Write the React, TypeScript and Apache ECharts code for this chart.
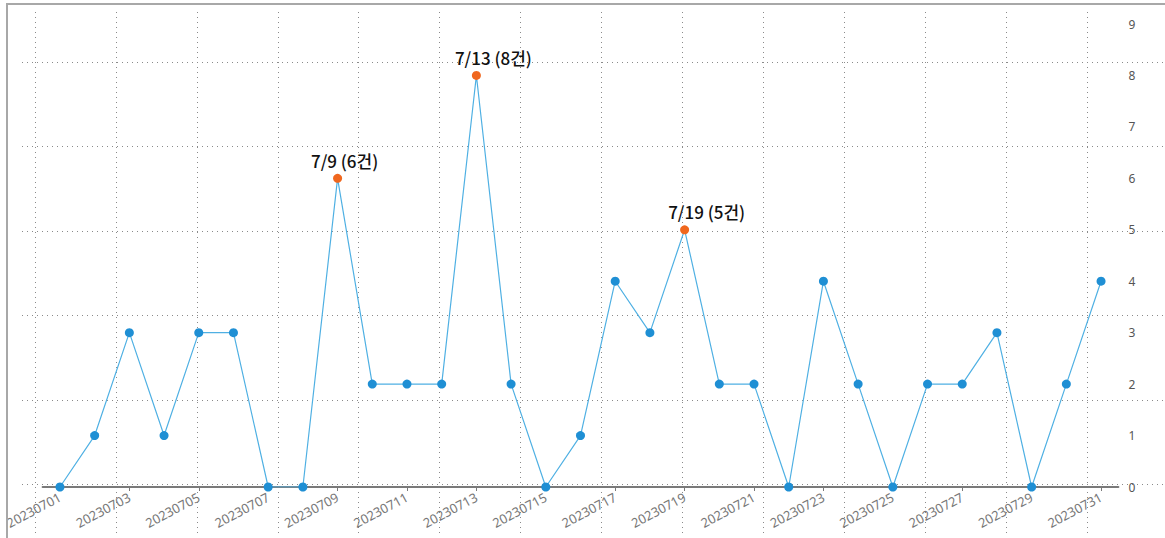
import React, { useEffect, useRef } from "react";
import * as echarts from "echarts";

const dates = [
  "20230701", "20230702", "20230703", "20230704", "20230705", "20230706", "20230707", "20230708",
  "20230709", "20230710", "20230711", "20230712", "20230713", "20230714", "20230715", "20230716",
  "20230717", "20230718", "20230719", "20230720", "20230721", "20230722", "20230723", "20230724",
  "20230725", "20230726", "20230727", "20230728", "20230729", "20230730", "20230731",
];
const counts = [0, 1, 3, 1, 3, 3, 0, 0, 6, 2, 2, 2, 8, 2, 0, 1, 4, 3, 5, 2, 2, 0, 4, 2, 0, 2, 2, 3, 0, 2, 4];
const highlightDates = ["20230709", "20230713", "20230719"];
const highlightLabels = ["7/9 (6건)", "7/13 (8건)", "7/19 (5건)"];

const labelOffsets: Record<string, number[]> = {
  "20230709": [7, 0],
  "20230713": [17, 0],
  "20230719": [22, 0],
};

export default function App() {
  const ref = useRef<HTMLDivElement>(null);
  useEffect(() => {
    if (!ref.current) return;
    const chart = echarts.init(ref.current, null, { renderer: "svg" });
    const dotted = { color: "#8a8a8a", width: 1, type: [1, 4] as any };
    const seriesData = counts.map((v, i) => {
      const h = highlightDates.indexOf(dates[i]);
      if (h < 0) return v;
      return {
        value: v,
        itemStyle: { color: "#f0671e" },
        label: {
          show: true,
          position: "top",
          distance: 5,
          offset: labelOffsets[dates[i]],
          formatter: highlightLabels[h],
          fontSize: 17,
          fontWeight: 500,
          color: "#111",
          fontFamily: "Noto Sans CJK KR",
        },
      };
    });
    chart.setOption({
      animation: false,
      backgroundColor: "#fff",
      graphic: [
        { type: "line", shape: { x1: 7, y1: 538, x2: 7, y2: 4 }, style: { stroke: "#a8a8a8", lineWidth: 2 }, z: 100 },
        { type: "line", shape: { x1: 6, y1: 4, x2: 1165, y2: 4 }, style: { stroke: "#a8a8a8", lineWidth: 2 }, z: 100 },
      ],
      grid: [
        { left: 42.6, right: 46.6, top: 24, bottom: 51, containLabel: false },
        { left: 22, right: 0, top: 62, bottom: 53.5 },
        { left: 35, right: 78, top: 12, bottom: 3 },
      ],
      xAxis: [
        {
          type: "category",
          gridIndex: 0,
          data: dates,
          boundaryGap: true,
          axisLine: { show: true, lineStyle: { color: "#7a7a7a", width: 2 } },
          axisTick: { show: true, alignWithLabel: true, interval: 1, length: 4, lineStyle: { color: "#7a7a7a", width: 1 } },
          axisLabel: { interval: 1, rotate: 28, color: "#777", fontSize: 13, margin: 9, fontFamily: "Noto Sans" },
          splitLine: { show: false },
          z: 5,
        },
        { type: "value", gridIndex: 1, show: false, min: 0, max: 1 },
        {
          type: "value",
          gridIndex: 2,
          min: 0,
          max: 13,
          interval: 1,
          axisLine: { show: false },
          axisTick: { show: false },
          axisLabel: { show: false },
          splitLine: { show: true, lineStyle: dotted },
          z: 0,
        },
      ],
      yAxis: [
        {
          type: "value",
          gridIndex: 0,
          position: "right",
          min: 0,
          max: 9,
          interval: 1,
          axisLine: { show: false },
          axisTick: { show: false },
          axisLabel: { color: "#555", fontSize: 12, margin: 10, fontFamily: "Noto Sans" },
          splitLine: { show: false },
        },
        {
          type: "value",
          gridIndex: 1,
          min: 0,
          max: 5,
          interval: 1,
          axisLine: { show: false },
          axisTick: { show: false },
          axisLabel: { show: false },
          splitLine: { show: true, lineStyle: dotted },
          z: 0,
        },
        { type: "value", gridIndex: 2, show: false, min: 0, max: 1 },
      ],
      series: [
        {
          type: "line",
          xAxisIndex: 0,
          yAxisIndex: 0,
          data: seriesData,
          symbol: "circle",
          symbolSize: 9,
          lineStyle: { color: "#4fb0e3", width: 1.2 },
          itemStyle: { color: "#1f8fd4" },
          z: 10,
        },
      ],
    });
    return () => chart.dispose();
  }, []);
  return <div ref={ref} style={{ position: "absolute", left: 0, top: 0, width: 1165, height: 538 }} />;
}
